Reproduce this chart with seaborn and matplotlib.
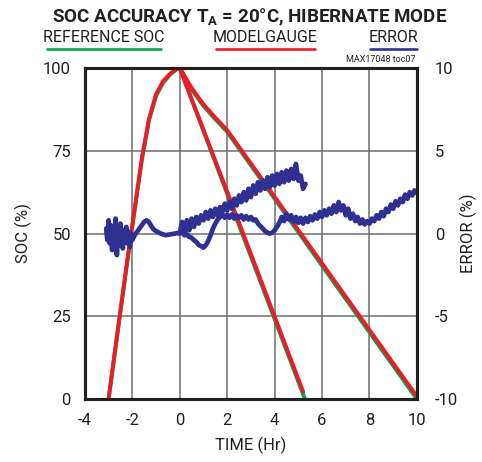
import numpy as np
import matplotlib
matplotlib.use("Agg")
import matplotlib.pyplot as plt
import seaborn as sns
from matplotlib.lines import Line2D

# --- data ---
# charge (CC/CV) from -3 h to 0 h
charge_t = [-3.0, -2.6, -2.2, -1.9, -1.6, -1.3, -1.0, -0.7, -0.4, -0.15, 0.0]
charge_ref = [0, 21, 42, 57, 72, 84, 91.5, 95.5, 98, 99.5, 100]
charge_model = [0, 21.5, 42.5, 57.5, 72.5, 84.5, 92, 96, 98.3, 99.6, 100]

# fast discharge
fast_t = [0.0, 2.5, 5.28]
fast_ref = [100, 52.5, 0]
fast_model_t = [0.0, 2.5, 5.2]
fast_model = [100, 53.3, 2.3]

# slow discharge
slow_t = [0.0, 0.5, 1.0, 1.5, 2.0, 6.0, 10.0]
slow_ref = [100, 93.5, 88.5, 84.5, 80.7, 40.3, 0]
slow_model = [100, 94.0, 89.0, 85.0, 81.2, 41.0, 0.8]

# error (%) curves
err_charge_t = [-3.1, -3.05, -3.0, -2.95, -2.9, -2.85, -2.8, -2.75, -2.7, -2.65,
                -2.6, -2.55, -2.5, -2.45, -2.4, -2.35, -2.3, -2.25, -2.2, -2.15,
                -2.1, -2.05, -2.0, -1.9, -1.8, -1.7, -1.6, -1.5, -1.4, -1.3,
                -1.2, -1.1, -1.0, -0.8, -0.6, -0.4, -0.2, 0.0]
err_charge = [0.3, -0.4, 0.8, -0.6, 0.5, -1.0, 0.2, -0.8, 0.9, -1.3,
              0.1, -0.7, 0.6, -0.3, -0.9, 0.2, -0.4, 0.4, -0.6, 0.1,
              -0.8, 0.0, -0.4, -0.1, 0.1, 0.3, 0.5, 0.7, 0.8, 0.7,
              0.45, 0.25, 0.15, 0.0, -0.1, -0.05, 0.0, 0.05]

err_fast_t = np.round(np.linspace(0.0, 5.3, 54), 2)
err_fast = [0.0, 0.7, 0.0, 0.8, 0.2, 0.9, 0.4, 1.0, 0.6, 1.1,
            0.8, 1.3, 0.9, 1.4, 1.0, 1.5, 1.1, 1.6, 1.3, 1.8,
            1.4, 1.9, 1.5, 2.1, 1.7, 2.3, 1.9, 2.5, 2.0, 2.7,
            2.2, 2.9, 2.4, 3.1, 2.6, 3.2, 2.7, 3.4, 2.8, 3.5,
            2.9, 3.6, 3.0, 3.7, 3.1, 3.8, 3.2, 3.9, 3.3, 4.2,
            3.2, 3.5, 2.7, 3.0]

err_slow_t = np.round(np.linspace(0.0, 10.0, 101), 1)
err_slow = [0.0, 0.1, -0.1, -0.05, -0.2, -0.25, -0.4, -0.5, -0.7, -0.75,
            -0.85, -0.7, -0.45, -0.1, 0.3, 0.6, 0.85, 1.0, 1.15, 0.95,
            1.15, 0.95, 1.15, 0.9, 1.1, 0.95, 1.1, 0.85, 1.05, 0.85,
            1.0, 0.8, 0.85, 0.6, 0.45, 0.3, 0.15, 0.05, 0.0, 0.05,
            0.2, 0.4, 0.65, 1.0, 0.75, 1.2, 0.85, 1.1, 0.7, 1.0,
            0.65, 0.95, 0.6, 0.95, 0.7, 1.05, 0.8, 1.15, 0.9, 1.3,
            1.0, 1.4, 1.1, 1.5, 1.2, 1.7, 1.3, 1.9, 1.4, 1.7,
            1.1, 1.5, 0.9, 1.2, 0.75, 1.0, 0.6, 0.85, 0.55, 0.75,
            0.6, 0.9, 0.75, 1.1, 0.9, 1.3, 1.05, 1.5, 1.3, 1.75,
            1.5, 1.95, 1.7, 2.1, 1.9, 2.35, 2.1, 2.5, 2.3, 2.6,
            2.45]

x_ticks = [-4, -2, 0, 2, 4, 6, 8, 10]
soc_ticks = [0, 25, 50, 75, 100]
err_ticks = [-10, -5, 0, 5, 10]

GREEN = "#00a651"
RED = "#ed1c24"
BLUE = "#2e3192"
TXT = "#231f20"

sns.set_style("white")
plt.rcParams["font.family"] = ["Roboto", "DejaVu Sans"]
plt.rcParams["axes.unicode_minus"] = False
plt.rcParams["mathtext.fontset"] = "custom"
plt.rcParams["mathtext.rm"] = "Roboto:bold"

fig = plt.figure(figsize=(4.82, 4.62), dpi=100)
ax = fig.add_axes([0.176, 0.136, 0.689, 0.717])

# SOC curves: green reference under red model
sns.lineplot(x=charge_t, y=charge_ref, ax=ax, color=GREEN, lw=2.8, sort=False, estimator=None)
sns.lineplot(x=fast_t, y=fast_ref, ax=ax, color=GREEN, lw=2.8, sort=False, estimator=None)
sns.lineplot(x=slow_t, y=slow_ref, ax=ax, color=GREEN, lw=2.8, sort=False, estimator=None)
sns.lineplot(x=charge_t, y=charge_model, ax=ax, color=RED, lw=2.8, sort=False, estimator=None)
sns.lineplot(x=fast_model_t, y=fast_model, ax=ax, color=RED, lw=2.8, sort=False, estimator=None)
sns.lineplot(x=slow_t, y=slow_model, ax=ax, color=RED, lw=2.8, sort=False, estimator=None)

ax.set_xlim(-4, 10)
ax.set_ylim(0, 100)
ax.set_xticks(x_ticks)
ax.set_yticks(soc_ticks)
ax.grid(True, color="#6d6e71", lw=1.1)
ax.set_axisbelow(True)
ax.tick_params(length=0, labelsize=12, labelcolor=TXT)
ax.tick_params(axis="y", pad=10)
ax.tick_params(axis="x", pad=10)
ax.set_xlabel("TIME (Hr)", fontsize=12, color=TXT, labelpad=6)
ax.set_ylabel("SOC (%)", fontsize=12, color=TXT, labelpad=8)

# error on right axis
ax2 = ax.twinx()
sns.lineplot(x=err_charge_t, y=err_charge, ax=ax2, color=BLUE, lw=3.4, sort=False, estimator=None)
sns.lineplot(x=err_fast_t, y=err_fast, ax=ax2, color=BLUE, lw=3.4, sort=False, estimator=None)
sns.lineplot(x=err_slow_t, y=err_slow, ax=ax2, color=BLUE, lw=3.4, sort=False, estimator=None)
ax2.set_ylim(-10, 10)
ax2.set_yticks(err_ticks)
ax2.tick_params(length=0, labelsize=12, labelcolor=TXT, pad=13)
ax2.set_ylabel("ERROR (%)", fontsize=12, color=TXT, labelpad=1)
ax2.grid(False)

for a in (ax, ax2):
    for s in a.spines.values():
        s.set_visible(True)
        s.set_color(TXT)
        s.set_linewidth(2.2)

# title and legend-style header
fig.text(0.518, 0.962, r"SOC ACCURACY T$_\mathrm{A}$ = 20°C, HIBERNATE MODE",
         ha="center", va="center", fontsize=13.5, fontweight="bold", color=TXT)

header = [("REFERENCE SOC", 47, 161, GREEN), ("MODELGAUGE", 216, 315, RED), ("ERROR", 370, 417, BLUE)]
W, H = 482.0, 462.0
for label, x0, x1, col in header:
    fig.text((x0 + x1) / 2 / W, 1 - 38 / H, label, ha="center", va="center",
             fontsize=11.5, color=TXT)
    fig.add_artist(Line2D([x0 / W, x1 / W], [1 - 49 / H, 1 - 49 / H],
                          color=col, lw=1.9, transform=fig.transFigure))

fig.text(416 / W, 1 - 60 / H, "MAX17048 toc07", ha="right", va="center",
         fontsize=6.5, color=TXT)

fig.savefig("out.png", dpi=100)
